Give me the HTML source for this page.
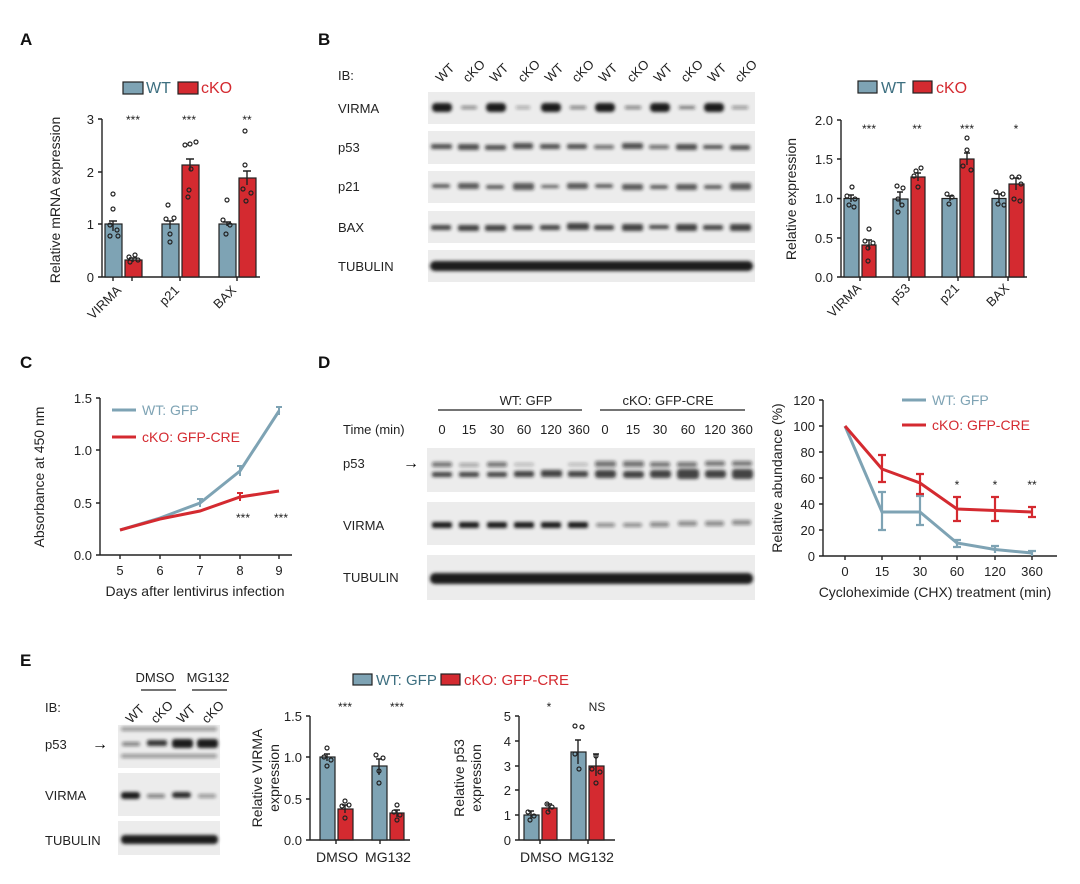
<!DOCTYPE html>
<html><head><meta charset="utf-8"><style>
html,body{margin:0;padding:0;background:#fff;}
svg{display:block;font-family:"Liberation Sans",Arial,sans-serif;}
.t{font-size:13px;fill:#222}
.at{font-size:14px;fill:#222}
.L{font-size:17px;font-weight:bold;fill:#111}
.st{font-size:12px;fill:#222}
.wt{fill:#7ea3b4;stroke:#222;stroke-width:1.2}
.ko{fill:#d42a30;stroke:#222;stroke-width:1.2}
.ax{stroke:#222;stroke-width:1.4;fill:none}
.dot{fill:none;stroke:#222;stroke-width:1.2}
.strip{fill:#ececec}
.b{fill:#1a1a1a;filter:url(#bl)}
</style></head><body>
<svg width="1080" height="884" viewBox="0 0 1080 884">
<defs><filter id="bl" x="-30%" y="-80%" width="160%" height="260%"><feGaussianBlur stdDeviation="1.6"/></filter></defs>

<text class="L" x="20" y="45">A</text>
<text class="L" x="318" y="45">B</text>
<text class="L" x="20" y="368">C</text>
<text class="L" x="318" y="368">D</text>
<text class="L" x="20" y="666">E</text>

<!-- ===== Panel A ===== -->
<rect class="wt" x="123" y="82" width="20" height="12"/><text x="146" y="93" font-size="16" fill="#3d6f80">WT</text>
<rect class="ko" x="178" y="82" width="20" height="12"/><text x="201" y="93" font-size="16" fill="#d42a30">cKO</text>
<text class="at" transform="translate(60,200) rotate(-90)" text-anchor="middle">Relative mRNA expression</text>
<path class="ax" d="M102,119V277H260M98,119H102M98,172H102M98,224H102M98,277H102M113,277V281M132,277V281M180,277V281M237,277V281"/>
<text class="t" x="94" y="124" text-anchor="end">3</text><text class="t" x="94" y="177" text-anchor="end">2</text><text class="t" x="94" y="229" text-anchor="end">1</text><text class="t" x="94" y="282" text-anchor="end">0</text>
<rect class="wt" x="105" y="224" width="17" height="53"/><rect class="ko" x="125" y="260" width="17" height="17"/>
<rect class="wt" x="162" y="224" width="17" height="53"/><rect class="ko" x="182" y="165" width="17" height="112"/>
<rect class="wt" x="219" y="224" width="17" height="53"/><rect class="ko" x="239" y="178" width="17" height="99"/>
<path class="ax" d="M113,221V231M109,221H117M133,258V262M129,258H137M170,221V229M166,221H174M190,159V171M186,159H194M227,222V226M223,222H231M247,171V185M243,171H251"/>
<g class="dot"><circle cx="113" cy="194" r="2"/><circle cx="113" cy="209" r="2"/><circle cx="110" cy="225" r="2"/><circle cx="117" cy="230" r="2"/><circle cx="110" cy="236" r="2"/><circle cx="118" cy="236" r="2"/><circle cx="129" cy="257" r="2"/><circle cx="135" cy="255" r="2"/><circle cx="130" cy="262" r="2"/><circle cx="138" cy="260" r="2"/>
<circle cx="168" cy="205" r="2"/><circle cx="166" cy="219" r="2"/><circle cx="174" cy="218" r="2"/><circle cx="170" cy="234" r="2"/><circle cx="170" cy="242" r="2"/><circle cx="185" cy="145" r="2"/><circle cx="190" cy="144" r="2"/><circle cx="196" cy="142" r="2"/><circle cx="191" cy="169" r="2"/><circle cx="189" cy="190" r="2"/><circle cx="188" cy="197" r="2"/>
<circle cx="227" cy="200" r="2"/><circle cx="223" cy="220" r="2"/><circle cx="230" cy="225" r="2"/><circle cx="226" cy="234" r="2"/><circle cx="245" cy="131" r="2"/><circle cx="245" cy="165" r="2"/><circle cx="243" cy="189" r="2"/><circle cx="251" cy="193" r="2"/><circle cx="246" cy="201" r="2"/></g>
<text class="st" x="133" y="124" text-anchor="middle">***</text><text class="st" x="189" y="124" text-anchor="middle">***</text><text class="st" x="247" y="124" text-anchor="middle">**</text>
<text class="t" transform="translate(122,291) rotate(-45)" text-anchor="end">VIRMA</text>
<text class="t" transform="translate(180,291) rotate(-45)" text-anchor="end">p21</text>
<text class="t" transform="translate(237,291) rotate(-45)" text-anchor="end">BAX</text>

<!-- ===== Panel B blot ===== -->
<text class="t" x="338" y="80">IB:</text>
<g class="t">
<text transform="translate(441,83) rotate(-45)" x="0" y="0">WT</text><text transform="translate(468,83) rotate(-45)">cKO</text>
<text transform="translate(495,83) rotate(-45)">WT</text><text transform="translate(523,83) rotate(-45)">cKO</text>
<text transform="translate(550,83) rotate(-45)">WT</text><text transform="translate(577,83) rotate(-45)">cKO</text>
<text transform="translate(604,83) rotate(-45)">WT</text><text transform="translate(632,83) rotate(-45)">cKO</text>
<text transform="translate(659,83) rotate(-45)">WT</text><text transform="translate(686,83) rotate(-45)">cKO</text>
<text transform="translate(713,83) rotate(-45)">WT</text><text transform="translate(740,83) rotate(-45)">cKO</text>
</g>
<text class="t" x="338" y="113">VIRMA</text><text class="t" x="338" y="152">p53</text><text class="t" x="338" y="191">p21</text><text class="t" x="338" y="232">BAX</text><text class="t" x="338" y="271">TUBULIN</text>
<rect class="strip" x="428" y="92" width="327" height="32"/><rect class="strip" x="428" y="131" width="327" height="33"/><rect class="strip" x="428" y="171" width="327" height="32"/><rect class="strip" x="428" y="211" width="327" height="32"/><rect class="strip" x="428" y="250" width="327" height="32"/>
<g class="b">
<rect x="432" y="103" width="20" height="9" rx="4"/><rect x="461" y="106" width="16" height="3" rx="1.5" opacity=".5"/><rect x="486" y="103" width="20" height="9" rx="4"/><rect x="516" y="106" width="14" height="3" opacity=".35"/><rect x="541" y="103" width="20" height="9" rx="4"/><rect x="570" y="106" width="16" height="3" opacity=".55"/><rect x="595" y="103" width="20" height="9" rx="4"/><rect x="625" y="106" width="16" height="3" opacity=".55"/><rect x="650" y="103" width="20" height="9" rx="4"/><rect x="679" y="106" width="16" height="3" opacity=".6"/><rect x="704" y="103" width="20" height="9" rx="4"/><rect x="732" y="106" width="16" height="3" opacity=".45"/>
<g opacity=".75"><rect x="431" y="144" width="21" height="5" rx="2"/><rect x="458" y="144" width="21" height="6" rx="2"/><rect x="485" y="145" width="21" height="5" rx="2"/><rect x="513" y="143" width="20" height="6" rx="2"/><rect x="540" y="144" width="20" height="5" rx="2"/><rect x="567" y="144" width="20" height="5" rx="2"/><rect x="594" y="145" width="20" height="4" rx="2" opacity=".8"/><rect x="622" y="143" width="21" height="6" rx="2"/><rect x="649" y="145" width="20" height="4" rx="2" opacity=".8"/><rect x="676" y="144" width="21" height="6" rx="2"/><rect x="703" y="145" width="20" height="4" rx="2"/><rect x="730" y="145" width="20" height="5" rx="2"/></g>
<g opacity=".7"><rect x="432" y="184" width="18" height="4" rx="2"/><rect x="458" y="183" width="21" height="6" rx="2"/><rect x="486" y="185" width="18" height="4" rx="2"/><rect x="513" y="183" width="21" height="7" rx="2"/><rect x="541" y="185" width="18" height="3" rx="2"/><rect x="567" y="183" width="21" height="6" rx="2"/><rect x="595" y="184" width="18" height="4" rx="2"/><rect x="622" y="184" width="21" height="6" rx="2"/><rect x="650" y="185" width="18" height="4" rx="2"/><rect x="676" y="184" width="21" height="6" rx="2"/><rect x="704" y="185" width="18" height="4" rx="2"/><rect x="730" y="183" width="21" height="7" rx="2"/></g>
<g opacity=".8"><rect x="431" y="225" width="20" height="5" rx="2"/><rect x="458" y="225" width="21" height="6" rx="2"/><rect x="485" y="225" width="21" height="6" rx="2"/><rect x="513" y="225" width="20" height="5" rx="2"/><rect x="540" y="225" width="20" height="5" rx="2"/><rect x="567" y="223" width="22" height="7" rx="2"/><rect x="594" y="225" width="20" height="5" rx="2"/><rect x="622" y="224" width="21" height="7" rx="2"/><rect x="649" y="225" width="20" height="4" rx="2"/><rect x="676" y="224" width="21" height="7" rx="2"/><rect x="703" y="225" width="20" height="5" rx="2"/><rect x="730" y="224" width="21" height="7" rx="2"/></g>
<rect x="430" y="261" width="323" height="10" rx="5"/>
</g>

<!-- ===== Panel B chart ===== -->
<rect class="wt" x="858" y="81" width="19" height="12"/><text x="881" y="93" font-size="16" fill="#3d6f80">WT</text>
<rect class="ko" x="913" y="81" width="19" height="12"/><text x="936" y="93" font-size="16" fill="#d42a30">cKO</text>
<text class="at" transform="translate(796,199) rotate(-90)" text-anchor="middle">Relative expression</text>
<path class="ax" d="M841,120V277H1027M837,120H841M837,159H841M837,198.5H841M837,238H841M837,277H841M860,277V281M909,277V281M958,277V281M1008,277V281"/>
<text class="t" x="833" y="125" text-anchor="end">2.0</text><text class="t" x="833" y="164" text-anchor="end">1.5</text><text class="t" x="833" y="203" text-anchor="end">1.0</text><text class="t" x="833" y="243" text-anchor="end">0.5</text><text class="t" x="833" y="282" text-anchor="end">0.0</text>
<rect class="wt" x="844" y="198.5" width="15" height="78.5"/><rect class="ko" x="862" y="245" width="14" height="32"/>
<rect class="wt" x="893" y="199" width="15" height="78"/><rect class="ko" x="911" y="177" width="14" height="100"/>
<rect class="wt" x="942" y="198.5" width="15" height="78.5"/><rect class="ko" x="960" y="159" width="14" height="118"/>
<rect class="wt" x="992" y="198.5" width="14" height="78.5"/><rect class="ko" x="1009" y="184" width="15" height="93"/>
<path class="ax" d="M851,195V202M848,195H854M869,240V250M866,240H872M900,192V205M897,192H903M918,173V181M915,173H921M950,196V201M947,196H953M967,153V165M964,153H970M999,194V203M996,194H1002M1016,178V190M1013,178H1019"/>
<g class="dot"><circle cx="852" cy="187" r="2"/><circle cx="847" cy="196" r="2"/><circle cx="855" cy="199" r="2"/><circle cx="849" cy="205" r="2"/><circle cx="854" cy="207" r="2"/><circle cx="869" cy="229" r="2"/><circle cx="865" cy="241" r="2"/><circle cx="873" cy="243" r="2"/><circle cx="868" cy="248" r="2"/><circle cx="868" cy="261" r="2"/>
<circle cx="897" cy="186" r="2"/><circle cx="903" cy="188" r="2"/><circle cx="898" cy="199" r="2"/><circle cx="902" cy="205" r="2"/><circle cx="898" cy="212" r="2"/><circle cx="916" cy="171" r="2"/><circle cx="921" cy="168" r="2"/><circle cx="914" cy="176" r="2"/><circle cx="918" cy="187" r="2"/>
<circle cx="947" cy="194" r="2"/><circle cx="952" cy="197" r="2"/><circle cx="949" cy="204" r="2"/><circle cx="967" cy="138" r="2"/><circle cx="967" cy="150" r="2"/><circle cx="963" cy="166" r="2"/><circle cx="971" cy="170" r="2"/>
<circle cx="996" cy="192" r="2"/><circle cx="1003" cy="194" r="2"/><circle cx="998" cy="204" r="2"/><circle cx="1004" cy="205" r="2"/><circle cx="1012" cy="177" r="2"/><circle cx="1019" cy="177" r="2"/><circle cx="1021" cy="184" r="2"/><circle cx="1014" cy="199" r="2"/><circle cx="1020" cy="201" r="2"/></g>
<text class="st" x="869" y="133" text-anchor="middle">***</text><text class="st" x="917" y="133" text-anchor="middle">**</text><text class="st" x="967" y="133" text-anchor="middle">***</text><text class="st" x="1016" y="133" text-anchor="middle">*</text>
<text class="t" transform="translate(862,289) rotate(-45)" text-anchor="end">VIRMA</text>
<text class="t" transform="translate(911,289) rotate(-45)" text-anchor="end">p53</text>
<text class="t" transform="translate(960,289) rotate(-45)" text-anchor="end">p21</text>
<text class="t" transform="translate(1010,289) rotate(-45)" text-anchor="end">BAX</text>

<!-- ===== Panel C ===== -->
<text class="at" transform="translate(44,477) rotate(-90)" text-anchor="middle">Absorbance at 450 nm</text>
<path class="ax" d="M100,398V555H292M96,398H100M96,450H100M96,503H100M96,555H100M120,555V559M160,555V559M200,555V559M240,555V559M279,555V559"/>
<text class="t" x="92" y="403" text-anchor="end">1.5</text><text class="t" x="92" y="455" text-anchor="end">1.0</text><text class="t" x="92" y="508" text-anchor="end">0.5</text><text class="t" x="92" y="560" text-anchor="end">0.0</text>
<text class="t" x="120" y="575" text-anchor="middle">5</text><text class="t" x="160" y="575" text-anchor="middle">6</text><text class="t" x="200" y="575" text-anchor="middle">7</text><text class="t" x="240" y="575" text-anchor="middle">8</text><text class="t" x="279" y="575" text-anchor="middle">9</text>
<text class="at" x="195" y="596" text-anchor="middle">Days after lentivirus infection</text>
<polyline points="120,530 160,518 200,503 240,471 279,411" fill="none" stroke="#7ea3b4" stroke-width="3"/>
<polyline points="120,530 160,519 200,511 240,497 279,491" fill="none" stroke="#d42a30" stroke-width="3"/>
<path d="M200,499V507M197,499H203M240,466V476M237,466H243M279,407V415M276,407H282" stroke="#7ea3b4" stroke-width="2"/>
<path d="M240,493V501M237,493H243" stroke="#d42a30" stroke-width="2"/>
<line x1="112" y1="410" x2="136" y2="410" stroke="#7ea3b4" stroke-width="3"/><text x="142" y="415" font-size="14" fill="#7ea3b4">WT: GFP</text>
<line x1="112" y1="437" x2="136" y2="437" stroke="#d42a30" stroke-width="3"/><text x="142" y="442" font-size="14" fill="#d42a30">cKO: GFP-CRE</text>
<text class="st" x="243" y="522" text-anchor="middle">***</text><text class="st" x="281" y="522" text-anchor="middle">***</text>

<!-- ===== Panel D blot ===== -->
<text class="t" x="526" y="405" text-anchor="middle">WT: GFP</text><line x1="438" y1="410" x2="582" y2="410" stroke="#222" stroke-width="1.3"/>
<text class="t" x="668" y="405" text-anchor="middle">cKO: GFP-CRE</text><line x1="600" y1="410" x2="745" y2="410" stroke="#222" stroke-width="1.3"/>
<text class="t" x="343" y="434">Time (min)</text>
<g class="t" text-anchor="middle"><text x="442" y="434">0</text><text x="469" y="434">15</text><text x="497" y="434">30</text><text x="524" y="434">60</text><text x="551" y="434">120</text><text x="579" y="434">360</text><text x="605" y="434">0</text><text x="633" y="434">15</text><text x="660" y="434">30</text><text x="688" y="434">60</text><text x="715" y="434">120</text><text x="742" y="434">360</text></g>
<text class="t" x="343" y="468">p53</text><text x="403" y="468" font-size="16">→</text>
<text class="t" x="343" y="530">VIRMA</text><text class="t" x="343" y="582">TUBULIN</text>
<rect class="strip" x="427" y="448" width="328" height="44"/><rect class="strip" x="427" y="502" width="328" height="43"/><rect class="strip" x="427" y="555" width="328" height="45"/>
<g class="b">
<g opacity=".55"><rect x="432" y="462" width="20" height="5" rx="2"/><rect x="459" y="463" width="20" height="4" rx="2" opacity=".6"/><rect x="487" y="462" width="20" height="5" rx="2"/><rect x="514" y="463" width="20" height="3" rx="2" opacity=".5"/><rect x="568" y="463" width="20" height="3" rx="2" opacity=".5"/><rect x="595" y="461" width="21" height="6" rx="2"/><rect x="623" y="461" width="21" height="6" rx="2"/><rect x="650" y="462" width="20" height="5" rx="2"/><rect x="677" y="462" width="20" height="5" rx="2"/><rect x="705" y="461" width="20" height="5" rx="2"/><rect x="732" y="461" width="20" height="5" rx="2"/></g>
<g opacity=".8"><rect x="432" y="472" width="20" height="5" rx="2"/><rect x="459" y="472" width="20" height="5" rx="2"/><rect x="487" y="472" width="20" height="5" rx="2"/><rect x="514" y="471" width="20" height="6" rx="2"/><rect x="541" y="470" width="21" height="7" rx="2"/><rect x="568" y="471" width="20" height="6" rx="2"/><rect x="595" y="470" width="21" height="8" rx="3"/><rect x="623" y="471" width="21" height="7" rx="3"/><rect x="650" y="470" width="21" height="8" rx="3"/><rect x="677" y="469" width="22" height="10" rx="3"/><rect x="705" y="470" width="21" height="8" rx="3"/><rect x="732" y="469" width="21" height="10" rx="3"/></g>
<rect x="432" y="522" width="20" height="6" rx="2"/><rect x="459" y="522" width="20" height="6" rx="2"/><rect x="487" y="522" width="20" height="6" rx="2"/><rect x="514" y="522" width="20" height="6" rx="2"/><rect x="541" y="522" width="20" height="6" rx="2"/><rect x="568" y="522" width="20" height="6" rx="2"/>
<g opacity=".45"><rect x="596" y="523" width="19" height="4" rx="2"/><rect x="623" y="523" width="19" height="4" rx="2"/><rect x="650" y="522" width="19" height="5" rx="2"/><rect x="678" y="521" width="19" height="5" rx="2"/><rect x="705" y="521" width="19" height="5" rx="2"/><rect x="732" y="520" width="19" height="5" rx="2"/></g>
<rect x="430" y="573" width="323" height="11" rx="5"/>
</g>

<!-- ===== Panel D chart ===== -->
<text class="at" transform="translate(782,478) rotate(-90)" text-anchor="middle">Relative abundance (%)</text>
<path class="ax" d="M823,400V556H1057M819,400H823M819,426H823M819,452H823M819,478H823M819,504H823M819,530H823M819,556H823M845,556V560M882,556V560M920,556V560M957,556V560M995,556V560M1032,556V560"/>
<g class="t" text-anchor="end"><text x="815" y="405">120</text><text x="815" y="431">100</text><text x="815" y="457">80</text><text x="815" y="483">60</text><text x="815" y="509">40</text><text x="815" y="535">20</text><text x="815" y="561">0</text></g>
<g class="t" text-anchor="middle"><text x="845" y="576">0</text><text x="882" y="576">15</text><text x="920" y="576">30</text><text x="957" y="576">60</text><text x="995" y="576">120</text><text x="1032" y="576">360</text></g>
<text class="at" x="935" y="597" text-anchor="middle">Cycloheximide (CHX) treatment (min)</text>
<polyline points="845,426 882,512 920,512 957,543 995,549.5 1032,553" fill="none" stroke="#7ea3b4" stroke-width="3"/>
<path d="M882,492V530M878,492H886M878,530H886M920,496V525M916,496H924M916,525H924M957,540V547M953,540H961M953,547H961M995,546V553M991,546H999M1032,551V556M1028,551H1036" stroke="#7ea3b4" stroke-width="2.2"/>
<polyline points="845,426 882,469 920,483 957,509 995,510.5 1032,512" fill="none" stroke="#d42a30" stroke-width="3"/>
<path d="M882,455V482M878,455H886M878,482H886M920,474V494M916,474H924M916,494H924M957,497V521M953,497H961M953,521H961M995,497V521M991,497H999M991,521H999M1032,507V517M1028,507H1036M1028,517H1036" stroke="#d42a30" stroke-width="2.2"/>
<text class="st" x="957" y="489" text-anchor="middle">*</text><text class="st" x="995" y="489" text-anchor="middle">*</text><text class="st" x="1032" y="489" text-anchor="middle">**</text>
<line x1="902" y1="400" x2="926" y2="400" stroke="#7ea3b4" stroke-width="3"/><text x="932" y="405" font-size="14" fill="#7ea3b4">WT: GFP</text>
<line x1="902" y1="425" x2="926" y2="425" stroke="#d42a30" stroke-width="3"/><text x="932" y="430" font-size="14" fill="#d42a30">cKO: GFP-CRE</text>

<!-- ===== Panel E blot ===== -->
<text class="t" x="155" y="682" text-anchor="middle">DMSO</text><line x1="141" y1="690" x2="176" y2="690" stroke="#222" stroke-width="1.3"/>
<text class="t" x="208" y="682" text-anchor="middle">MG132</text><line x1="192" y1="690" x2="227" y2="690" stroke="#222" stroke-width="1.3"/>
<text class="t" x="45" y="712">IB:</text>
<g class="t"><text transform="translate(131,724) rotate(-45)">WT</text><text transform="translate(156,724) rotate(-45)">cKO</text><text transform="translate(182,724) rotate(-45)">WT</text><text transform="translate(207,724) rotate(-45)">cKO</text></g>
<text class="t" x="45" y="749">p53</text><text x="92" y="749" font-size="16">→</text>
<text class="t" x="45" y="800">VIRMA</text><text class="t" x="45" y="845">TUBULIN</text>
<rect class="strip" x="118" y="725" width="102" height="43"/><rect class="strip" x="118" y="773" width="102" height="43"/><rect class="strip" x="118" y="821" width="102" height="34"/>
<g class="b">
<g opacity=".4"><rect x="121" y="727" width="96" height="4" rx="2"/><rect x="121" y="754" width="96" height="4" rx="2"/></g>
<rect x="122" y="742" width="18" height="4" rx="2" opacity=".5"/><rect x="147" y="740" width="20" height="6" rx="2" opacity=".85"/><rect x="172" y="739" width="21" height="9" rx="3"/><rect x="197" y="739" width="21" height="9" rx="3"/>
<rect x="121" y="792" width="19" height="7" rx="3"/><rect x="147" y="794" width="18" height="4" rx="2" opacity=".5"/><rect x="172" y="792" width="19" height="6" rx="3" opacity=".9"/><rect x="198" y="794" width="18" height="4" rx="2" opacity=".4"/>
<rect x="121" y="835" width="97" height="9" rx="4"/>
</g>

<rect class="wt" x="353" y="674" width="19" height="11"/><text x="376" y="685" font-size="15" fill="#3d6f80">WT: GFP</text>
<rect class="ko" x="441" y="674" width="19" height="11"/><text x="464" y="685" font-size="15" fill="#d42a30">cKO: GFP-CRE</text>

<!-- E VIRMA chart -->
<text class="at" transform="translate(262,778) rotate(-90)" text-anchor="middle">Relative VIRMA</text>
<text class="at" transform="translate(279,778) rotate(-90)" text-anchor="middle">expression</text>
<path class="ax" d="M310,716V840H410M306,716H310M306,757H310M306,799H310M306,840H310M336,840V844M380,840V844"/>
<g class="t" text-anchor="end"><text x="302" y="721">1.5</text><text x="302" y="762">1.0</text><text x="302" y="804">0.5</text><text x="302" y="845">0.0</text></g>
<text class="at" x="337" y="862" text-anchor="middle">DMSO</text><text class="at" x="388" y="862" text-anchor="middle">MG132</text>
<rect class="wt" x="320" y="757" width="15" height="83"/><rect class="ko" x="338" y="809" width="15" height="31"/>
<rect class="wt" x="372" y="766" width="15" height="74"/><rect class="ko" x="390" y="813" width="14" height="27"/>
<path class="ax" d="M327,754V761M324,754H330M345,805V813M342,805H348M379,759V775M376,759H382M397,810V817M394,810H400"/>
<g class="dot"><circle cx="327" cy="748" r="2"/><circle cx="324" cy="757" r="2"/><circle cx="331" cy="760" r="2"/><circle cx="327" cy="766" r="2"/><circle cx="345" cy="801" r="2"/><circle cx="342" cy="806" r="2"/><circle cx="349" cy="805" r="2"/><circle cx="345" cy="818" r="2"/><circle cx="376" cy="755" r="2"/><circle cx="383" cy="758" r="2"/><circle cx="379" cy="771" r="2"/><circle cx="379" cy="783" r="2"/><circle cx="397" cy="805" r="2"/><circle cx="394" cy="812" r="2"/><circle cx="400" cy="815" r="2"/><circle cx="397" cy="820" r="2"/></g>
<text class="st" x="345" y="711" text-anchor="middle">***</text><text class="st" x="397" y="711" text-anchor="middle">***</text>

<!-- E p53 chart -->
<text class="at" transform="translate(464,778) rotate(-90)" text-anchor="middle">Relative p53</text>
<text class="at" transform="translate(481,778) rotate(-90)" text-anchor="middle">expression</text>
<path class="ax" d="M519,716V840H615M515,716H519M515,741H519M515,766H519M515,790H519M515,815H519M515,840H519M540,840V844M588,840V844"/>
<g class="t" text-anchor="end"><text x="511" y="721">5</text><text x="511" y="746">4</text><text x="511" y="771">3</text><text x="511" y="795">2</text><text x="511" y="820">1</text><text x="511" y="845">0</text></g>
<text class="at" x="541" y="862" text-anchor="middle">DMSO</text><text class="at" x="591" y="862" text-anchor="middle">MG132</text>
<rect class="wt" x="524" y="815" width="15" height="25"/><rect class="ko" x="542" y="808" width="15" height="32"/>
<rect class="wt" x="571" y="752" width="15" height="88"/><rect class="ko" x="589" y="766" width="15" height="74"/>
<path class="ax" d="M531,811V819M528,811H534M549,804V812M546,804H552M578,740V764M575,740H581M596,754V776M593,754H599"/>
<g class="dot"><circle cx="528" cy="812" r="2"/><circle cx="534" cy="816" r="2"/><circle cx="530" cy="820" r="2"/><circle cx="547" cy="804" r="2"/><circle cx="552" cy="807" r="2"/><circle cx="548" cy="812" r="2"/><circle cx="575" cy="726" r="2"/><circle cx="582" cy="727" r="2"/><circle cx="575" cy="754" r="2"/><circle cx="579" cy="769" r="2"/><circle cx="596" cy="756" r="2"/><circle cx="592" cy="769" r="2"/><circle cx="600" cy="772" r="2"/><circle cx="596" cy="783" r="2"/></g>
<text class="st" x="549" y="711" text-anchor="middle">*</text><text class="st" x="597" y="711" text-anchor="middle">NS</text>
</svg>
</body></html>
